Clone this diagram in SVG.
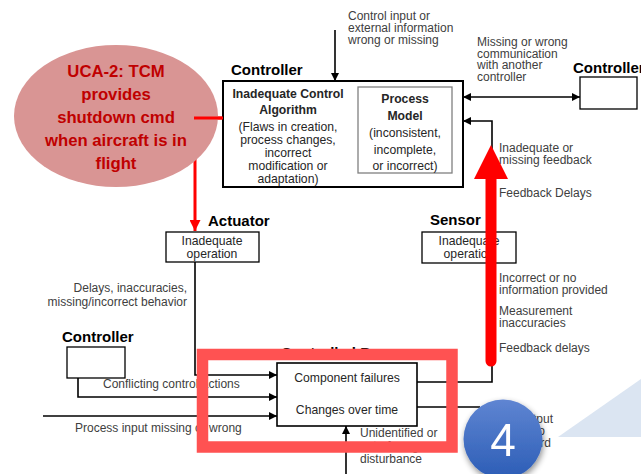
<svg xmlns="http://www.w3.org/2000/svg" width="641" height="474" viewBox="0 0 641 474">
  <defs>
    <marker id="arr" viewBox="0 0 10 10" refX="10" refY="5" markerWidth="9" markerHeight="8" markerUnits="userSpaceOnUse" orient="auto-start-reverse">
      <path d="M0,0 L10,5 L0,10 Z" fill="#000"/>
    </marker>
    <marker id="arrRed" viewBox="0 0 10 10" refX="10" refY="5" markerWidth="11" markerHeight="11" markerUnits="userSpaceOnUse" orient="auto">
      <path d="M0,0 L10,5 L0,10 Z" fill="#ff0000"/>
    </marker>
    <linearGradient id="badge" x1="0" y1="0" x2="0" y2="1">
      <stop offset="0" stop-color="#5f85d2"/>
      <stop offset="1" stop-color="#2c5db6"/>
    </linearGradient>
    <filter id="shadow" x="-30%" y="-30%" width="160%" height="160%">
      <feGaussianBlur in="SourceAlpha" stdDeviation="3"/>
      <feOffset dx="1" dy="3" result="b"/>
      <feComponentTransfer><feFuncA type="linear" slope="0.45"/></feComponentTransfer>
      <feMerge><feMergeNode/><feMergeNode in="SourceGraphic"/></feMerge>
    </filter>
    <style>
      text { font-family: "Liberation Sans", Arial, sans-serif; }
      .lbl { font-size: 15px; font-weight: bold; fill: #000; }
      .note { font-size: 12px; fill: #404040; }
      .box { fill: #fff; stroke: #000; stroke-width: 1.3; }
      .inbox { font-size: 12.2px; fill: #262626; }
      .bold { font-weight: bold; }
      .wire { fill: none; stroke: #000; stroke-width: 1.6; }
      .uca { font-size: 16.7px; font-weight: bold; fill: #c00000; }
    </style>
  </defs>

  <rect width="641" height="474" fill="#fff"/>

  <!-- background callout wedge -->
  <polygon points="558,437 641,379 641,437" fill="#dbe5f2"/>

  <!-- connectors -->
  <g id="connectors">
    <line class="wire" x1="335" y1="30" x2="335" y2="81" marker-end="url(#arr)"/>
    <line class="wire" x1="463" y1="97" x2="580" y2="97" marker-start="url(#arr)" marker-end="url(#arr)"/>
    <polyline class="wire" points="417,382 492,382 492,121 463,121" marker-end="url(#arr)"/>
    <polyline class="wire" points="195,262 195,375 277,375" marker-end="url(#arr)"/>
    <polyline class="wire" points="78,378 78,397 277,397" marker-end="url(#arr)"/>
    <line class="wire" x1="43" y1="416" x2="277" y2="416" marker-end="url(#arr)"/>
    <line class="wire" x1="417" y1="407" x2="480" y2="407"/>
    <line class="wire" x1="346" y1="474" x2="346" y2="426" marker-end="url(#arr)"/>
    <polyline points="223,118 195,118 195,231" fill="none" stroke="#ff0000" stroke-width="3" marker-end="url(#arrRed)"/>
  </g>

  <!-- annotations -->
  <g id="notes">
    <text class="note" x="348" y="20">Control input or</text>
    <text class="note" x="348" y="32">external information</text>
    <text class="note" x="348" y="44">wrong or missing</text>
    <text class="note" x="477" y="46">Missing or wrong</text>
    <text class="note" x="477" y="57.5">communication</text>
    <text class="note" x="477" y="69">with another</text>
    <text class="note" x="477" y="80.5">controller</text>
    <text class="note" x="499" y="152">Inadequate or</text>
    <text class="note" x="499" y="164">missing feedback</text>
    <text class="note" x="499" y="197">Feedback Delays</text>
    <text class="note" x="499" y="282">Incorrect or no</text>
    <text class="note" x="499" y="294">information provided</text>
    <text class="note" x="499" y="315">Measurement</text>
    <text class="note" x="499" y="327">inaccuracies</text>
    <text class="note" x="499" y="352">Feedback delays</text>
    <text class="note" x="187" y="292" text-anchor="end">Delays, inaccuracies,</text>
    <text class="note" x="187" y="306" text-anchor="end">missing/incorrect behavior</text>
    <text class="note" x="103" y="388">Conflicting control actions</text>
    <text class="note" x="75" y="432">Process input missing or wrong</text>
    <text class="note" x="360" y="437">Unidentified or</text>
    <text class="note" x="360" y="450">out-of-range</text>
    <text class="note" x="360" y="463">disturbance</text>
    <text class="note" x="473" y="423">Process output</text>
    <text class="note" x="473" y="435">contributes to</text>
    <text class="note" x="473" y="447">system hazard</text>
  </g>

  <!-- main controller -->
  <g id="controller">
    <text class="lbl" x="231" y="75">Controller</text>
    <rect x="223" y="81" width="240" height="106" fill="#fff" stroke="#000" stroke-width="2"/>
    <text class="inbox bold" x="288" y="98" text-anchor="middle">Inadequate Control</text>
    <text class="inbox bold" x="288" y="114" text-anchor="middle">Algorithm</text>
    <text class="inbox" x="288" y="131" text-anchor="middle">(Flaws in creation,</text>
    <text class="inbox" x="288" y="144" text-anchor="middle">process changes,</text>
    <text class="inbox" x="288" y="157" text-anchor="middle">incorrect</text>
    <text class="inbox" x="288" y="170" text-anchor="middle">modification or</text>
    <text class="inbox" x="288" y="183" text-anchor="middle">adaptation)</text>
  </g>

  <g id="process-model">
    <rect x="358" y="87" width="94" height="86" fill="#fff" stroke="#808080" stroke-width="1.3"/>
    <text class="inbox bold" x="405" y="103" text-anchor="middle">Process</text>
    <text class="inbox bold" x="405" y="120" text-anchor="middle">Model</text>
    <text class="inbox" x="405" y="137" text-anchor="middle">(inconsistent,</text>
    <text class="inbox" x="405" y="154" text-anchor="middle">incomplete,</text>
    <text class="inbox" x="405" y="170" text-anchor="middle">or incorrect)</text>
  </g>

  <g id="other-controller">
    <text class="lbl" x="573" y="73">Controller</text>
    <rect class="box" x="580" y="77" width="57" height="32"/>
  </g>

  <g id="actuator">
    <text class="lbl" x="208" y="226">Actuator</text>
    <rect class="box" x="166" y="232" width="93" height="30"/>
    <text class="inbox" x="212" y="245" text-anchor="middle">Inadequate</text>
    <text class="inbox" x="212" y="258" text-anchor="middle">operation</text>
  </g>

  <g id="sensor">
    <text class="lbl" x="430" y="225">Sensor</text>
    <rect class="box" x="422" y="232" width="94" height="31"/>
    <text class="inbox" x="469" y="245" text-anchor="middle">Inadequate</text>
    <text class="inbox" x="469" y="258" text-anchor="middle">operation</text>
  </g>

  <g id="lower-controller">
    <text class="lbl" x="62" y="342">Controller</text>
    <rect class="box" x="67" y="347" width="58" height="31"/>
  </g>

  <g id="controlled-process">
    <text class="lbl" x="281" y="358">Controlled Process</text>
    <rect x="277" y="363" width="140" height="63" fill="#fff" stroke="#000" stroke-width="1.6"/>
    <text class="inbox" x="347" y="382" text-anchor="middle">Component failures</text>
    <text class="inbox" x="347" y="414" text-anchor="middle">Changes over time</text>
  </g>

  <!-- highlight frame around the controlled process -->
  <rect x="202.5" y="354.5" width="249.5" height="92.5" fill="none" stroke="#ff5252" stroke-width="11.5"/>

  <!-- highlighted feedback path -->
  <g id="feedback-highlight">
    <path d="M485.5,179 L485.5,361 A5.5,5.5 0 0 0 496.5,361 L496.5,179 L508,179 L491,145 L474,179 Z" fill="#ff0000"/>
  </g>

  <!-- unsafe control action callout -->
  <g id="uca">
    <ellipse cx="116" cy="116" rx="102" ry="71" fill="#d99594"/>
    <text class="uca" x="116" y="77" text-anchor="middle">UCA-2: TCM</text>
    <text class="uca" x="116" y="100" text-anchor="middle">provides</text>
    <text class="uca" x="116" y="123" text-anchor="middle">shutdown cmd</text>
    <text class="uca" x="116" y="146" text-anchor="middle">when aircraft is in</text>
    <text class="uca" x="116" y="169" text-anchor="middle">flight</text>
  </g>
  <!-- redraw red link over the ellipse edge -->
  <line x1="223" y1="118" x2="194" y2="118" stroke="#ff0000" stroke-width="3"/>

  <!-- step badge -->
  <g id="badge-4" filter="url(#shadow)">
    <circle cx="503" cy="439" r="39.5" fill="url(#badge)"/>
    <text x="503" y="456" text-anchor="middle" font-family="Liberation Sans, Arial, sans-serif" font-size="46" fill="#fff">4</text>
  </g>
</svg>
